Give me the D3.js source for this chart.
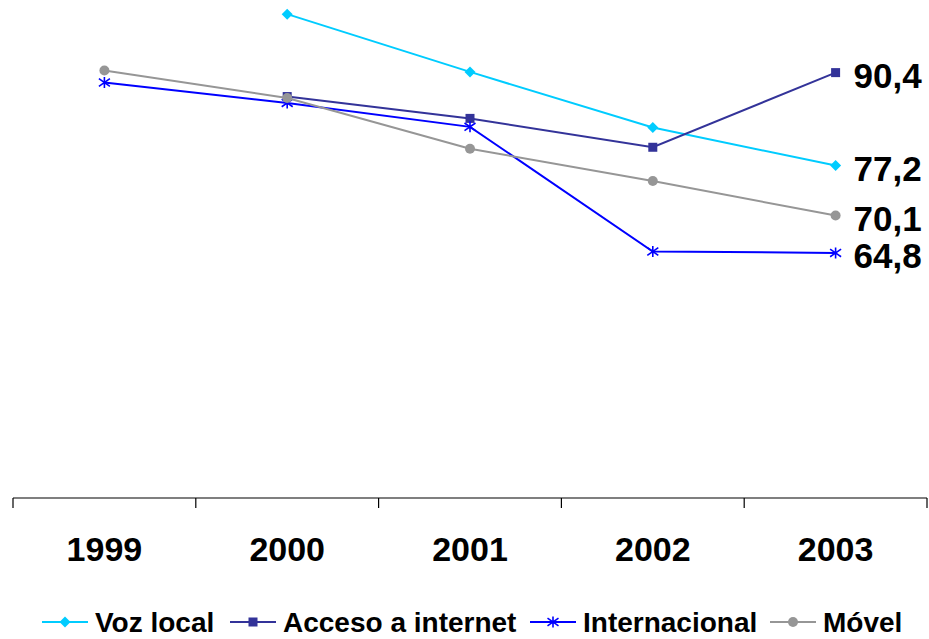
<!DOCTYPE html>
<html>
<head>
<meta charset="utf-8">
<script src="https://cdn.jsdelivr.net/npm/d3@7/dist/d3.min.js"></script>
<style>
  html, body { margin: 0; padding: 0; background: #fff; }
  svg { display: block; font-family: "Liberation Sans", Arial, sans-serif; font-weight: bold; }
</style>
</head>
<body>
<svg id="chart" width="929" height="639"></svg>
<script>
// Price index by service, 1999–2003
const years = ["1999", "2000", "2001", "2002", "2003"];
const vozLocal      = [null, 98.7, 90.5, 82.6, 77.2];
const accesoInternet = [null, 87.0, 83.9, 79.8, 90.4];
const internacional = [89.0, 86.1, 82.7, 65.0, 64.8];
const movel         = [90.7, 86.8, 79.6, 75.0, 70.1];
const seriesNames = ["Voz local", "Acceso a internet", "Internacional", "Móvel"];
const yDomain = [30, 100];

const series = [
  { name: seriesNames[0], values: vozLocal,       color: "#00CCFF", marker: "diamond" },
  { name: seriesNames[1], values: accesoInternet, color: "#333399", marker: "square" },
  { name: seriesNames[2], values: internacional,  color: "#0000FF", marker: "asterisk" },
  { name: seriesNames[3], values: movel,          color: "#969696", marker: "circle" }
];

const svg = d3.select("#chart");

const x = d3.scaleBand().domain(years).range([13, 927]);
const y = d3.scaleLinear().domain(yDomain).range([498, 5]);
const cx = d => x(d) + x.bandwidth() / 2;

// category axis: baseline with ticks between categories
const axisG = svg.append("g").attr("transform", `translate(0,${y(yDomain[0])})`);
axisG.append("line")
  .attr("x1", x.range()[0]).attr("x2", x.range()[1])
  .attr("stroke", "#000").attr("stroke-width", 1.2);
const bounds = years.map(d => x(d)).concat([x(years[years.length - 1]) + x.bandwidth()]);
axisG.selectAll("line.tick").data(bounds).join("line")
  .attr("class", "tick")
  .attr("x1", d => d).attr("x2", d => d)
  .attr("y1", 0).attr("y2", 10)
  .attr("stroke", "#000").attr("stroke-width", 1.2);
axisG.selectAll("text").data(years).join("text")
  .attr("x", d => cx(d)).attr("y", 63)
  .attr("text-anchor", "middle")
  .attr("font-size", 34)
  .text(d => d);

// marker shapes
function drawMarker(g, type, color, px, py) {
  if (type === "diamond") {
    g.append("path")
      .attr("d", `M${px},${py - 5.5}L${px + 5.5},${py}L${px},${py + 5.5}L${px - 5.5},${py}Z`)
      .attr("fill", color);
  } else if (type === "square") {
    g.append("rect")
      .attr("x", px - 4.5).attr("y", py - 4.5)
      .attr("width", 9).attr("height", 9)
      .attr("fill", color);
  } else if (type === "circle") {
    g.append("circle").attr("cx", px).attr("cy", py).attr("r", 5).attr("fill", color);
  } else if (type === "asterisk") {
    const r = 5.5;
    g.append("path")
      .attr("d", `M${px},${py - r}L${px},${py + r}M${px - r},${py - r * 0.7}L${px + r},${py + r * 0.7}M${px - r},${py + r * 0.7}L${px + r},${py - r * 0.7}`)
      .attr("stroke", color).attr("stroke-width", 1.6).attr("fill", "none");
  }
}

const line = d3.line()
  .defined(d => d.v != null)
  .x(d => cx(d.year))
  .y(d => y(d.v));

series.forEach(s => {
  const pts = years.map((yr, i) => ({ year: yr, v: s.values[i] }));
  const g = svg.append("g");
  g.append("path")
    .datum(pts)
    .attr("d", line)
    .attr("fill", "none")
    .attr("stroke", s.color)
    .attr("stroke-width", 2);
  pts.filter(p => p.v != null).forEach(p => drawMarker(g, s.marker, s.color, cx(p.year), y(p.v)));

  // value label at the last year
  const last = pts[pts.length - 1];
  svg.append("text")
    .attr("x", cx(last.year) + 18)
    .attr("y", y(last.v) + 15)
    .attr("font-size", 35)
    .attr("fill", "#000")
    .text(d3.format(".1f")(last.v).replace(".", ","));
});

// legend
const legendX = [42, 230, 530, 770];
const legend = svg.append("g").attr("transform", "translate(0,622)");
series.forEach((s, i) => {
  const g = legend.append("g").attr("transform", `translate(${legendX[i]},0)`);
  g.append("line").attr("x1", 0).attr("x2", 46).attr("y1", 0).attr("y2", 0)
    .attr("stroke", s.color).attr("stroke-width", 2);
  drawMarker(g, s.marker, s.color, 23, 0);
  g.append("text")
    .attr("x", 53).attr("y", 10)
    .attr("font-size", 28)
    .text(s.name);
});
</script>
</body>
</html>
